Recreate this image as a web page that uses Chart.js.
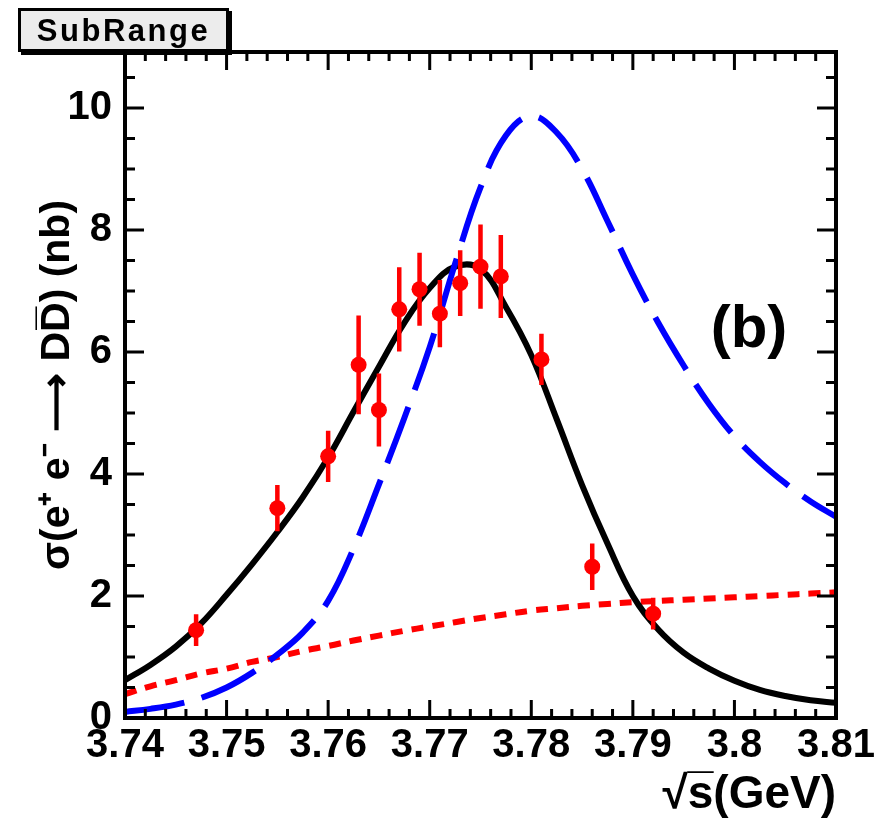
<!DOCTYPE html>
<html>
<head>
<meta charset="utf-8">
<script src="https://cdn.jsdelivr.net/npm/chart.js@4.4.1/dist/chart.umd.min.js"></script>
<style>
    html, body { margin: 0; padding: 0; background: #fff; }
    #wrap { position: relative; width: 896px; height: 825px; }
    #subrange {
        position: absolute; left: 18px; top: 8px; width: 205px; height: 38px;
        background: #ececec; border: 3px solid #000; box-shadow: 3px 3px 0 #000;
        font: bold 31px "Liberation Sans", Arial, sans-serif; letter-spacing: 2.5px;
        line-height: 40px; text-align: center; color: #000;
    }
    #panel {
        position: absolute; left: 702px; top: 292px; width: 94px; text-align: center;
        font: bold 60px "Liberation Sans", Arial, sans-serif; line-height: 70px; color: #000;
    }
</style>
</head>
<body>
<div id="wrap">
    <canvas id="chart" width="896" height="825"></canvas>
    <div id="subrange">SubRange</div>
    <div id="panel">(b)</div>
</div>
<script>
// measured cross sections (nb) with errors
const energy = [3.747, 3.755, 3.760, 3.763, 3.765, 3.767, 3.769, 3.771, 3.773, 3.775, 3.777, 3.781, 3.786, 3.792];
const xsec = [1.44, 3.44, 4.29, 5.79, 5.05, 6.70, 7.03, 6.63, 7.13, 7.40, 7.24, 5.88, 2.48, 1.71];
const xsecErr = [0.26, 0.38, 0.42, 0.81, 0.60, 0.69, 0.60, 0.55, 0.54, 0.69, 0.68, 0.42, 0.38, 0.26];

// curves
const curveE = [3.740, 3.7425, 3.745, 3.7475, 3.750, 3.7525, 3.755, 3.7575, 3.760, 3.7625,
                3.765, 3.7675, 3.770, 3.7725, 3.775, 3.7775, 3.780, 3.7825, 3.785, 3.7875,
                3.790, 3.7925, 3.795, 3.7975, 3.800, 3.8025, 3.805, 3.8075, 3.810];
const fitTotal = [0.62, 0.87, 1.17, 1.55, 2.02, 2.52, 3.05, 3.62, 4.27, 5.02,
                  5.76, 6.48, 7.05, 7.40, 7.36, 6.74, 5.95, 4.90, 3.82, 2.86,
                  2.00, 1.45, 1.07, 0.81, 0.61, 0.46, 0.36, 0.29, 0.25];
const fitBlue = [0.10, 0.15, 0.22, 0.33, 0.50, 0.74, 1.04, 1.40, 1.92, 2.78,
                 3.83, 4.92, 6.08, 7.45, 8.70, 9.55, 9.87, 9.60, 9.00, 8.15,
                 7.27, 6.48, 5.78, 5.15, 4.62, 4.20, 3.85, 3.55, 3.30];
const fitRed = [0.39, 0.52, 0.62, 0.73, 0.81, 0.92, 1.00, 1.10, 1.18, 1.27,
                1.35, 1.43, 1.50, 1.57, 1.64, 1.70, 1.76, 1.80, 1.84, 1.87,
                1.90, 1.92, 1.94, 1.96, 1.98, 2.00, 2.02, 2.04, 2.06];

const xTickValues = [3.74, 3.75, 3.76, 3.77, 3.78, 3.79, 3.8, 3.81];
const yTickValues = [0, 2, 4, 6, 8, 10];

const FONT = '"Liberation Sans", Arial, Helvetica, sans-serif';

const toPts = (xs, ys) => xs.map((x, i) => ({ x: x, y: ys[i] }));

// red vertical error bars
const errorBars = {
    id: 'errorBars',
    afterDatasetsDraw(chart) {
        const { ctx, scales: { x, y } } = chart;
        ctx.save();
        ctx.strokeStyle = '#ff0000';
        ctx.lineWidth = 4.5;
        ctx.beginPath();
        energy.forEach((e, i) => {
            const px = x.getPixelForValue(e);
            ctx.moveTo(px, y.getPixelForValue(xsec[i] - xsecErr[i]));
            ctx.lineTo(px, y.getPixelForValue(xsec[i] + xsecErr[i]));
        });
        ctx.stroke();
        ctx.restore();
    }
};

// ROOT style frame with inward ticks on all four sides
const frame = {
    id: 'frame',
    afterDraw(chart) {
        const { ctx, chartArea: a, scales: { x, y } } = chart;
        ctx.save();
        ctx.strokeStyle = '#000';
        ctx.lineWidth = 3;
        ctx.beginPath();
        for (let k = 0; k <= 35; k++) {
            const px = x.getPixelForValue(3.74 + k * 0.002);
            const len = k % 5 === 0 ? 18 : 9;
            ctx.moveTo(px, a.bottom); ctx.lineTo(px, a.bottom - len);
            ctx.moveTo(px, a.top); ctx.lineTo(px, a.top + len);
        }
        for (let k = 0; k <= 21; k++) {
            const py = y.getPixelForValue(k * 0.5);
            const len = k % 4 === 0 ? 19 : 10;
            ctx.moveTo(a.left, py); ctx.lineTo(a.left + len, py);
            ctx.moveTo(a.right, py); ctx.lineTo(a.right - len, py);
        }
        ctx.stroke();
        ctx.lineWidth = 4;
        ctx.strokeRect(a.left, a.top, a.right - a.left, a.bottom - a.top);
        ctx.restore();
    }
};

new Chart(document.getElementById('chart'), {
    type: 'line',
    data: {
        datasets: [
            {
                type: 'scatter',
                label: 'Data',
                data: toPts(energy, xsec),
                pointRadius: 8,
                pointBackgroundColor: '#ff0000',
                pointBorderWidth: 0,
                showLine: false
            },
            {
                label: 'Blue',
                data: toPts(curveE, fitBlue),
                borderColor: '#0000ff',
                borderWidth: 6,
                borderDash: [60, 18],
                pointRadius: 0,
                tension: 0.4,
                fill: false
            },
            {
                label: 'Fit',
                data: toPts(curveE, fitTotal),
                borderColor: '#000000',
                borderWidth: 6,
                pointRadius: 0,
                tension: 0.4,
                fill: false
            },
            {
                label: 'Background',
                data: toPts(curveE, fitRed),
                borderColor: '#ff0000',
                borderWidth: 6,
                borderDash: [12, 9],
                pointRadius: 0,
                tension: 0.4,
                fill: false
            }
        ]
    },
    options: {
        responsive: false,
        animation: false,
        layout: { padding: { left: 0, right: 60, top: 52, bottom: 0 } },
        plugins: { legend: { display: false }, tooltip: { enabled: false } },
        scales: {
            x: {
                type: 'linear',
                min: 3.74,
                max: 3.81,
                grid: { display: false, drawTicks: false },
                border: { display: false },
                afterBuildTicks: s => { s.ticks = xTickValues.map(v => ({ value: v })); },
                afterFit: s => { s.height = 107; },
                ticks: {
                    padding: 4,
                    autoSkip: false,
                    maxRotation: 0,
                    color: '#000',
                    font: { family: FONT, size: 40, weight: 'bold' },
                    callback: v => String(v)
                },
                title: {
                    display: true,
                    text: '√s̅(GeV)',
                    align: 'end',
                    color: '#000',
                    font: { family: FONT, size: 46, weight: 'bold' },
                    padding: { top: 0, bottom: 2 }
                }
            },
            y: {
                min: 0,
                max: 10.92,
                grid: { display: false, drawTicks: false },
                border: { display: false },
                afterBuildTicks: s => { s.ticks = yTickValues.map(v => ({ value: v })); },
                afterFit: s => { s.width = 125; },
                ticks: {
                    padding: 13,
                    color: '#000',
                    font: { family: FONT, size: 40, weight: 'bold' }
                },
                title: {
                    display: true,
                    text: 'σ(e⁺ e⁻ ⟶ DD̅) (nb)',
                    color: '#000',
                    font: { family: FONT, size: 41, weight: 'bold' },
                    padding: { top: 33, bottom: 0 }
                }
            }
        }
    },
    plugins: [errorBars, frame]
});
</script>
</body>
</html>
